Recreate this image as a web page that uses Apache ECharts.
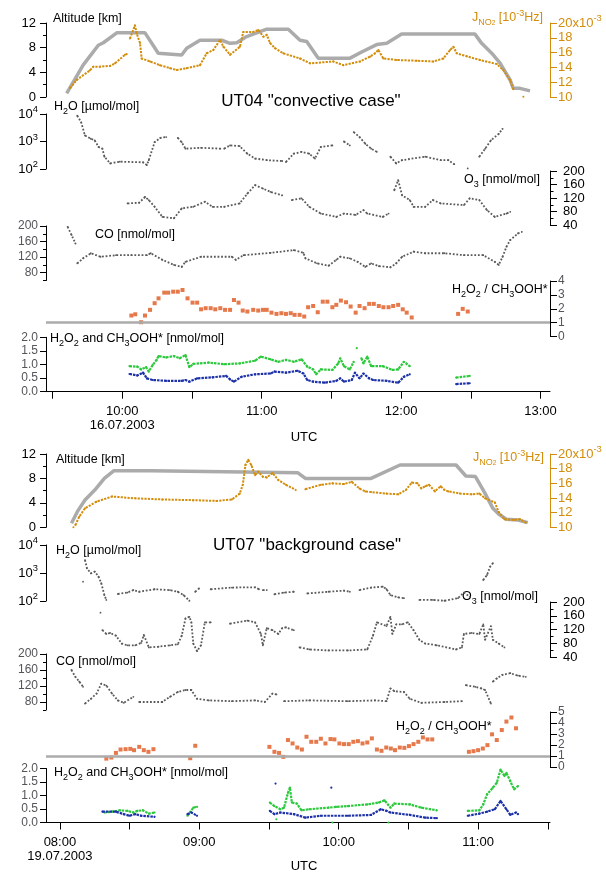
<!DOCTYPE html>
<html><head><meta charset="utf-8">
<script src="https://cdn.jsdelivr.net/npm/echarts@6/dist/echarts.min.js"></script>
<style>html,body{margin:0;padding:0;background:#fff}#c{width:606px;height:872px}</style>
</head><body><div id="c"></div>
<script>
// ===================== DATA (time in decimal hours UTC) =====================
// ---- UT04, 16.07.2003 ----
const ut04_altitude = [[9.601,0.6],[9.720,5.2],[9.828,8.4],[9.864,8.8],[9.960,10.4],[10.163,10.4],[10.258,7.1],[10.270,6.8],[10.426,6.8],[10.462,7.9],[10.557,9.2],[10.713,9.2],[10.773,8.7],[10.821,8.8],[10.892,9.8],[11.036,11.0],[11.191,11.0],[11.275,9.2],[11.323,9.0],[11.406,6.3],[11.634,6.3],[11.717,7.3],[11.825,8.5],[11.897,8.7],[12.004,10.2],[12.530,10.2],[12.578,8.7],[12.650,7.1],[12.710,5.5],[12.781,2.8],[12.805,1.4],[12.853,1.4],[12.925,1.0]];
const ut04_jno2 = [[9.625,11.2],[9.673,12.3],[9.768,13.6],[9.792,14.1],[9.840,14.1],[9.912,14.2],[9.948,14.55],[10.019,15.7],[10.032,15.8],null,[10.055,17.9],[10.091,19.7],[10.103,18.6],[10.127,17.3],[10.139,15.2],[10.199,14.8],[10.270,14.3],[10.342,13.9],[10.390,13.65],[10.462,13.9],[10.557,14.3],[10.605,15.9],[10.653,16.35],[10.701,17.7],[10.725,16.8],[10.773,15.7],[10.844,16.8],[10.868,18.8],[10.940,18.8],[10.976,19.05],[11.012,18.15],[11.036,18.4],[11.060,17.3],[11.095,16.6],[11.155,15.9],[11.275,15.2],[11.347,14.55],[11.514,14.8],[11.585,14.3],[11.705,14.8],[11.777,15.45],[11.813,15.9],[11.837,16.35],[11.872,15.2],[11.969,15.0],[12.112,14.9],[12.231,14.8],[12.303,15.2],[12.351,16.35],[12.375,16.8],[12.399,15.9],[12.471,15.5],[12.566,15.0],[12.686,14.45],[12.733,13.65],[12.781,12.3],[12.805,11.05],null,[12.877,10.05]];
const ut04_h2o = [[9.677,8700],[9.705,5000],[9.732,1660],[9.774,1260],[9.802,1100],[9.830,630],[9.857,550],[9.872,280],[9.913,160],[9.982,185],[10.149,175],[10.176,140],[10.190,210],[10.232,950],[10.273,1350],[10.315,1450],null,[10.398,1350],[10.426,950],[10.453,550],[10.565,590],[10.703,550],null,[10.731,550],[10.773,720],[10.842,680],[10.897,360],[10.953,240],[11.036,210],[11.147,195],null,[11.174,180],[11.230,360],[11.286,420],[11.341,360],[11.382,240],[11.424,630],[11.507,720],null,[11.590,1000],[11.632,720],null,[11.660,2200],[11.702,1450],[11.743,830],[11.785,550],[11.826,420],null,[11.923,280],[11.965,160],[12.007,210],[12.173,280],[12.284,210],[12.339,210],[12.381,150],null,[12.478,105],null,[12.561,280],[12.603,550],[12.644,1100],[12.700,1900],[12.728,2900]];
const ut04_o3 = [[10.038,104],[10.121,106],[10.163,123],[10.190,114],[10.232,94],[10.288,64],[10.371,60],[10.426,89],[10.509,94],[10.593,109],[10.648,94],[10.731,94],[10.842,104],[10.897,133],[10.953,158],[11.009,148],[11.064,138],[11.147,128],null,[11.216,114],[11.286,119],[11.341,94],[11.424,74],[11.535,64],[11.590,74],[11.674,70],[11.730,84],[11.757,74],[11.868,64],[11.910,74],null,[11.951,143],[11.979,173],[12.007,128],[12.062,114],[12.090,94],[12.173,94],[12.228,114],[12.284,104],[12.451,99],[12.492,119],[12.561,114],[12.616,84],[12.672,64],[12.756,74],[12.783,79]];
const ut04_co = [[9.608,198],[9.636,177],[9.664,155],null,[9.677,104],[9.719,117],[9.774,130],[9.844,121],[9.955,125],[10.065,125],[10.176,125],[10.204,130],[10.288,113],[10.371,100],[10.426,95],[10.453,108],[10.565,121],[10.786,121],[10.814,113],[10.870,125],[11.064,131],[11.230,138],[11.299,131],[11.314,117],[11.397,104],[11.480,98],[11.535,113],[11.563,121],[11.632,117],[11.688,108],[11.743,95],[11.785,104],[11.840,97],[11.923,94],[11.965,104],[12.007,121],[12.090,134],[12.173,130],[12.311,130],[12.451,125],[12.589,125],[12.672,108],[12.700,100],[12.728,121],[12.756,147],[12.783,164],[12.839,181],[12.866,185]];
const ut04_ratio = [[10.065,1.51],[10.093,1.60],[10.135,1.03],[10.163,1.51],[10.199,1.92],[10.232,2.40],[10.260,2.75],[10.301,3.16],[10.329,3.16],[10.365,3.23],[10.398,3.23],[10.432,3.35],[10.468,2.75],[10.504,2.44],[10.537,2.44],[10.565,1.96],[10.598,2.04],[10.634,2.04],[10.667,1.96],[10.703,2.04],[10.737,1.92],[10.773,1.92],[10.801,2.63],[10.834,2.44],[10.864,1.87],[10.897,1.80],[10.939,1.92],[10.975,1.87],[11.009,1.92],[11.036,1.92],[11.070,1.72],[11.106,1.63],[11.141,1.68],[11.174,1.63],[11.208,1.68],[11.236,1.56],[11.272,1.56],[11.305,1.44],[11.333,2.11],[11.369,2.20],[11.402,1.75],[11.438,2.51],[11.471,2.51],[11.507,2.11],[11.535,2.28],[11.568,2.59],[11.605,2.47],[11.638,2.16],[11.674,1.72],[11.702,2.20],[11.738,2.04],[11.771,2.35],[11.804,2.35],[11.840,2.20],[11.873,2.11],[11.910,2.11],[11.943,2.20],[11.979,2.28],[12.012,1.96],[12.040,1.72],[12.076,1.37],[12.409,1.63],[12.442,1.99],[12.478,1.80]];
const ut04_h2o2 = [[10.052,0.94],[10.107,0.92],[10.135,0.82],[10.171,0.90],[10.190,0.74],[10.218,0.98],[10.246,1.17],[10.260,1.31],[10.315,1.26],[10.370,1.31],[10.412,1.23],[10.453,1.35],[10.481,0.90],[10.509,1.02],[10.620,1.07],[10.731,1.01],[10.842,1.04],[10.953,1.14],[10.994,1.29],[11.064,1.19],[11.119,1.10],[11.174,1.17],[11.230,1.10],[11.286,1.19],[11.327,0.92],[11.369,0.82],[11.391,0.64],[11.424,0.82],[11.507,0.80],[11.549,1.04],[11.563,1.23],[11.590,0.94],[11.632,0.82],[11.660,1.10],null,[11.682,1.60],null,[11.715,1.23],[11.730,1.04],[11.757,1.29],[11.785,0.94],[11.868,0.94],[11.938,0.80],[11.979,0.82],[12.020,1.10],[12.062,0.94],null,[12.395,0.52],[12.492,0.58]];
const ut04_ch3ooh = [[10.052,0.65],[10.107,0.60],[10.149,0.70],[10.176,0.49],[10.218,0.43],[10.315,0.40],[10.426,0.40],[10.453,0.43],[10.481,0.37],[10.537,0.49],[10.648,0.53],[10.745,0.58],[10.773,0.45],[10.801,0.37],[10.856,0.55],[10.953,0.64],[11.064,0.67],[11.092,0.74],[11.174,0.70],[11.258,0.77],[11.299,0.67],[11.327,0.43],[11.369,0.37],[11.452,0.33],[11.535,0.40],[11.563,0.49],[11.590,0.37],[11.646,0.43],[11.669,0.70],[11.702,0.49],[11.730,0.67],[11.771,0.49],[11.799,0.43],[11.895,0.40],[11.979,0.33],[12.020,0.55],[12.062,0.64],null,[12.395,0.28],[12.492,0.31]];
const ut04_timeTicks = [9.5,10,10.5,11,11.5,12,12.5,13];
const ut04_timeLabels = [10,11,12,13];

// ---- UT07, 19.07.2003 ----
const ut07_altitude = [[8.083,0.65],[8.125,2.56],[8.180,4.47],[8.250,6.1],[8.319,8.0],[8.388,9.27],[8.652,9.27],[8.666,8.95],[9.705,8.95],[9.761,8.0],[10.232,8.0],[10.440,10.2],[10.842,10.2],[10.912,8.4],[10.981,8.3],[11.050,5.56],[11.106,3.1],[11.147,2.18],[11.203,1.31],[11.286,1.2],[11.356,0.76]];
const ut07_jno2 = [[8.097,10.0],null,[8.111,10.3],[8.139,11.45],[8.180,12.6],[8.263,13.5],[8.374,14.2],[8.541,13.95],[8.735,13.8],[8.957,13.7],[9.123,13.6],[9.234,13.8],[9.290,14.6],[9.312,15.8],[9.331,18.5],[9.351,19.2],[9.373,18.5],[9.400,17.1],[9.423,17.6],[9.456,16.9],[9.484,16.8],[9.525,17.4],[9.567,16.45],[9.622,15.8],[9.692,15.1],null,[9.761,15.2],[9.872,15.8],[9.955,16.0],[10.038,15.9],[10.094,16.2],[10.149,15.3],[10.191,14.9],[10.232,14.8],[10.343,14.6],[10.427,14.5],[10.482,15.1],[10.524,16.1],[10.565,16.0],[10.593,15.3],[10.621,15.6],[10.648,15.8],[10.690,14.9],[10.732,15.6],[10.759,15.1],[10.787,14.9],[10.870,14.6],[10.953,14.5],[11.009,14.6],[11.050,13.95],[11.120,13.4],[11.147,12.1],[11.189,11.1],[11.258,11.0],[11.300,11.1],[11.342,10.65]];
const ut07_h2o = [[8.166,490],null,[8.180,2900],[8.194,1470],[8.222,970],[8.250,1120],[8.277,740],[8.297,430],[8.319,163],[8.333,109],null,[8.416,178],[8.485,200],[8.527,245],[8.569,214],[8.679,263],[8.790,245],[8.846,214],[8.887,163],[8.929,102],null,[8.971,214],[8.998,282],null,[9.082,263],[9.234,302],[9.400,309],[9.428,263],null,[9.456,245],[9.484,245],null,[9.539,174],[9.608,200],[9.678,214],null,[9.775,186],[9.927,214],[10.038,234],[10.080,214],null,[10.149,245],[10.232,302],[10.316,324],[10.343,263],[10.371,163],[10.427,135],[10.468,126],null,[10.579,109],[10.676,109],[10.759,102],[10.856,126],[10.898,200],[10.940,141],null,[11.037,562],[11.064,850],[11.087,1700],[11.106,2240]];
const ut07_o3 = [[8.291,169],null,[8.305,118],[8.333,107],[8.360,110],[8.402,102],[8.444,79],[8.485,74],[8.541,74],[8.583,81],[8.602,104],[8.638,68],[8.707,70],[8.790,74],[8.846,77],[8.874,102],[8.901,152],[8.929,157],[8.943,141],[8.957,79],[8.984,57],[9.012,74],[9.040,141],[9.082,141],null,[9.220,137],[9.345,146],[9.400,141],[9.442,107],[9.456,74],[9.484,124],[9.525,118],[9.567,107],[9.595,124],[9.622,126],[9.678,118],null,[9.719,68],[9.789,62],[9.927,59],[10.066,59],[10.205,62],[10.246,102],[10.274,141],[10.343,130],[10.371,157],[10.385,107],[10.413,135],[10.454,135],[10.496,141],[10.537,118],[10.579,90],[10.621,79],[10.704,74],[10.842,62],[10.884,68],[10.898,107],[10.953,110],[11.009,107],[11.037,135],[11.050,90],[11.092,130],[11.106,90],[11.148,79],[11.189,68]];
const ut07_co = [[8.083,160],[8.111,143],[8.139,131],[8.166,118],null,[8.180,76],[8.222,88],[8.263,101],[8.297,126],[8.333,121],[8.374,101],[8.416,84],[8.458,78],[8.527,93],null,[8.569,80],[8.735,80],[8.790,93],[8.846,105],[8.901,110],[8.943,110],[8.984,88],[9.068,84],[9.234,82],[9.400,84],[9.470,80],[9.525,101],[9.553,99],null,[9.608,82],[9.789,84],[10.066,82],[10.260,84],[10.343,82],[10.371,114],[10.399,107],[10.468,105],[10.510,88],[10.593,78],[10.759,80],[10.884,82],null,[10.912,122],[10.981,118],[11.023,114],[11.050,110],[11.092,76],null,[11.106,131],[11.134,139],[11.175,148],[11.231,152],[11.286,146],[11.342,143]];
const ut07_ratio = [[8.333,0.76],[8.369,0.86],[8.402,1.28],[8.435,1.59],[8.471,1.62],[8.505,1.65],[8.532,1.53],[8.569,1.83],[8.602,1.53],[8.635,1.38],[8.671,1.62],[8.935,0.80],[8.971,1.93],[9.503,1.83],[9.539,1.38],[9.572,1.28],[9.603,0.92],[9.636,2.45],[9.669,2.14],[9.703,1.77],[9.736,1.59],[9.769,2.75],[9.803,2.29],[9.839,2.29],[9.872,2.57],[9.905,2.14],[9.941,2.54],[9.969,2.51],[10.005,2.14],[10.038,2.08],[10.072,2.08],[10.105,2.29],[10.138,2.35],[10.171,2.14],[10.205,2.23],[10.238,2.60],[10.274,1.59],[10.307,1.47],[10.341,1.77],[10.374,1.68],[10.404,1.53],[10.438,1.77],[10.471,1.74],[10.504,1.90],[10.537,2.08],[10.571,2.29],[10.604,2.69],[10.637,2.51],[10.671,2.51],[10.934,1.38],[10.967,1.44],[11.000,1.53],[11.034,1.68],[11.067,1.99],[11.100,2.97],[11.134,2.45],[11.170,3.36],[11.203,4.13],[11.239,4.50],[11.272,3.52]];
const ut07_h2o2 = [[8.319,0.37],[8.374,0.40],[8.430,0.45],[8.485,0.43],[8.527,0.37],[8.555,0.43],[8.596,0.45],[8.638,0.33],[8.679,0.37],null,[8.915,0.25],[8.957,0.55],[8.984,0.58],null,[9.506,0.74],[9.539,0.61],[9.581,0.49],[9.608,0.55],[9.636,1.10],[9.650,1.29],[9.664,0.74],[9.700,0.70],[9.733,0.45],[9.789,0.49],[9.927,0.55],[9.983,0.58],[10.066,0.61],[10.205,0.67],[10.288,0.74],[10.329,0.82],[10.371,0.55],[10.399,0.70],[10.510,0.67],[10.593,0.55],[10.704,0.45],null,[10.926,0.43],[11.009,0.45],[11.037,0.67],[11.064,1.04],[11.106,1.29],[11.134,1.47],[11.161,1.96],[11.189,1.72],[11.203,1.84],[11.231,1.53],[11.258,1.23],[11.286,1.35],null,[9.553,0.12],null,[9.955,0.0],null,[10.357,0.0]];
const ut07_ch3ooh = [[8.305,0.40],[8.402,0.40],[8.458,0.31],[8.499,0.25],[8.541,0.31],[8.583,0.25],[8.679,0.21],null,[8.915,0.31],[8.943,0.37],[8.984,0.25],null,[9.506,0.43],[9.539,0.31],[9.581,0.37],[9.678,0.31],[9.761,0.18],[9.872,0.25],[10.066,0.25],[10.232,0.28],[10.302,0.49],[10.343,0.43],[10.371,0.37],[10.510,0.28],[10.621,0.18],[10.704,0.16],null,[10.926,0.25],[11.009,0.33],[11.064,0.40],[11.120,0.49],[11.161,0.80],[11.203,0.49],[11.231,0.28],[11.272,0.37],[11.286,0.31],null,[9.547,1.44],null,[9.947,1.29]];
const ut07_timeTicks = [8,8.5,9,9.5,10,10.5,11,11.5];
const ut07_timeLabels = [8,9,10,11];

// ===================== LAYOUT / STYLE =====================
const FONT = "'Liberation Sans', Arial, Helvetica, sans-serif";
const ORANGE = '#d38d0b', ALTGRAY = '#ababab', DOT = '#5a5a5a', RED = '#e0571e',
      GREEN = '#2bc93c', BLUE = '#1c30a8', GREEN_T = '#25b04a', BLUE_T = '#2a44b8';
const XL = 46, XR = 550;

const panels = [
  { tmin: 9.4527, tmax: 13.0681, alt:[23,97], h2o:[114,169], o3:[171,225], co:[226,280.5], ratio:[281,336.5], ratioMax:4, hp:[337.3,391.7],
    ticks: ut04_timeTicks, labels: ut04_timeLabels, date:'16.07.2003',
    d: { alt: ut04_altitude, j: ut04_jno2, h2o: ut04_h2o, o3: ut04_o3, co: ut04_co, ratio: ut04_ratio, h2o2: ut04_h2o2, mhp: ut04_ch3ooh },
    txt: { altLab:[53,19], jLab:[472,18], title:[311,101,'UT04 "convective case"'], h2oLab:[54,107], o3Lab:[464,180], coLab:[95,235], ratioLab:[452,290], hpLab:[50,339], utc:[304,437] } },
  { tmin: 7.9003, tmax: 11.5158, alt:[454,527.3], h2o:[545,601], o3:[602,657], co:[654,710], ratio:[712,767], ratioMax:5, hp:[768.5,822.5],
    ticks: ut07_timeTicks, labels: ut07_timeLabels, date:'19.07.2003',
    d: { alt: ut07_altitude, j: ut07_jno2, h2o: ut07_h2o, o3: ut07_o3, co: ut07_co, ratio: ut07_ratio, h2o2: ut07_h2o2, mhp: ut07_ch3ooh },
    txt: { altLab:[56,460], jLab:[473,458], title:[307,545,'UT07 "background case"'], h2oLab:[56,551], o3Lab:[462,597], coLab:[56,662], ratioLab:[396,727], hpLab:[54,773], utc:[304,866] } }
];

const grids = [], xAxes = [], yAxes = [], series = [], graphics = [];

function pairs(a) { return a.map(p => p === null ? ['-', '-'] : p); }
function addGrid(top, bottom, tmin, tmax) {
  grids.push({ left: XL, width: XR - XL, top: top, height: bottom - top });
  xAxes.push({ type: 'value', gridIndex: grids.length - 1, min: tmin, max: tmax, show: false });
  return grids.length - 1;
}
function richSet(color, size) {
  return {
    n: { fontSize: size, fontFamily: FONT, color: color, lineHeight: 18, verticalAlign: 'middle' },
    s: { fontSize: size * 0.72, fontFamily: FONT, color: color, lineHeight: 9, verticalAlign: 'bottom' },
    p: { fontSize: size * 0.72, fontFamily: FONT, color: color, lineHeight: 9, verticalAlign: 'top' }
  };
}
function yAx(grid, pos, color, extra) {
  const left = pos === 'left';
  const base = {
    gridIndex: grid, type: 'value', position: pos,
    axisLine: { show: true, onZero: false, lineStyle: { color: color, width: 1 } },
    axisTick: { show: true, length: left ? 6 : 7, lineStyle: { color: color, width: 1 } },
    axisLabel: { color: color, fontSize: 13, fontFamily: FONT, margin: left ? 10 : 13,
      showMinLabel: true, showMaxLabel: true, hideOverlap: false, interval: 0 },
    splitLine: { show: false }
  };
  const cfg = Object.assign(base, extra || {});
  if (extra && extra.axisLabel) cfg.axisLabel = Object.assign(base.axisLabel, extra.axisLabel);
  if (extra && extra.axisTick) cfg.axisTick = Object.assign({ show: true, length: left ? 6 : 7, lineStyle: { color: color, width: 1 } }, extra.axisTick);
  yAxes.push(cfg);
  return yAxes.length - 1;
}
function dotLine(g, y, data, color, width, dash, sym, z) {
  return { type: 'line', xAxisIndex: g, yAxisIndex: y, data: pairs(data), showSymbol: true, symbol: 'circle',
    symbolSize: sym, itemStyle: { color: color }, lineStyle: { color: color, width: width, type: dash },
    connectNulls: false, silent: true, animation: false, z: z };
}
function text(x, y, str, color, size, align, richExtra) {
  const r = richSet(color, size);
  if (richExtra) Object.assign(r, richExtra);
  graphics.push({ type: 'text', x: x, y: y, silent: true,
    style: { text: str, rich: r, fill: color, fontSize: size, fontFamily: FONT, align: align || 'left', verticalAlign: 'middle' } });
}
function fmtTime(v) {
  const h = Math.floor(v + 1e-6), m = Math.round((v - h) * 60);
  return (h < 10 ? '0' : '') + h + ':' + (m < 10 ? '0' : '') + m;
}

panels.forEach(P => {
  // Altitude + J(NO2)
  const gA = addGrid(P.alt[0], P.alt[1], P.tmin, P.tmax);
  const yAlt = yAx(gA, 'left', '#000', { min: 0, max: 12, interval: 4,
    minorTick: { show: true, splitNumber: 2, length: 3, lineStyle: { color: '#000' } } });
  const yJ = yAx(gA, 'right', ORANGE, { min: 10, max: 20, interval: 2,
    axisLabel: { formatter: v => v === 20 ? '{n|20x10}{p|-3}' : '{n|' + v + '}', rich: richSet(ORANGE, 13) } });
  series.push({ type: 'line', xAxisIndex: gA, yAxisIndex: yAlt, data: pairs(P.d.alt), showSymbol: false,
    lineStyle: { color: ALTGRAY, width: 3.5 }, silent: true, animation: false, z: 1 });
  series.push(dotLine(gA, yJ, P.d.j, ORANGE, 2, [2.2, 1.2], 2, 2));

  // H2O (log)
  const gW = addGrid(P.h2o[0], P.h2o[1], P.tmin, P.tmax);
  const yW = yAx(gW, 'left', '#000', { type: 'log', logBase: 10, min: 100, max: 10000,
    axisLabel: { formatter: v => '{n|10}{p|' + Math.round(Math.log10(v)) + '}', rich: richSet('#000', 13) } });
  series.push(dotLine(gW, yW, P.d.h2o, DOT, 1.8, [1.8, 1.8], 1.8, 2));

  // O3 (right)
  const gO = addGrid(P.o3[0], P.o3[1], P.tmin, P.tmax);
  const yO = yAx(gO, 'right', '#000', { min: 40, max: 200, interval: 40,
    minorTick: { show: true, splitNumber: 2, length: 3.5, lineStyle: { color: '#000' } } });
  series.push(dotLine(gO, yO, P.d.o3, DOT, 1.8, [1.8, 1.8], 1.8, 2));

  // CO (left)
  const gC = addGrid(P.co[0], P.co[1], P.tmin, P.tmax);
  const yC = yAx(gC, 'left', '#000', { min: 60, max: 200,
    axisTick: { customValues: [80, 120, 160, 200] },
    axisLabel: { customValues: [80, 120, 160, 200] } });
  yAx(gC, 'left', '#000', { min: 60, max: 200,
    axisLine: { show: false }, axisLabel: { show: false },
    axisTick: { customValues: [60, 100, 140, 180], length: 3 } });
  series.push(dotLine(gC, yC, P.d.co, DOT, 1.8, [1.8, 1.8], 1.8, 2));

  // Ratio (right): labels split over two overlaid axes so none is dropped for crowding
  const gR = addGrid(P.ratio[0], P.ratio[1], P.tmin, P.tmax);
  const evens = [], odds = [];
  for (let k = 0; k <= P.ratioMax; k++) (k % 2 ? odds : evens).push(k);
  const yR = yAx(gR, 'right', '#000', { min: 0, max: P.ratioMax,
    axisTick: { customValues: evens.concat(odds) },
    axisLabel: { customValues: evens } });
  yAx(gR, 'right', '#000', { min: 0, max: P.ratioMax,
    axisLine: { show: false }, axisTick: { show: false },
    axisLabel: { customValues: odds } });
  series.push({ type: 'line', xAxisIndex: gR, yAxisIndex: yR, data: [], silent: true, animation: false, z: 1,
    markLine: { silent: true, symbol: 'none', label: { show: false }, animation: false,
      lineStyle: { color: ALTGRAY, width: 2.5, type: 'solid' }, data: [{ yAxis: 1 }] } });
  series.push({ type: 'scatter', xAxisIndex: gR, yAxisIndex: yR, data: P.d.ratio, symbol: 'rect', symbolSize: 4,
    itemStyle: { color: RED }, silent: true, animation: false, z: 3 });

  // H2O2 and CH3OOH (left) + time axis
  const gH = addGrid(P.hp[0], P.hp[1], P.tmin, P.tmax);
  xAxes[gH] = { type: 'value', gridIndex: gH, min: P.tmin, max: P.tmax, position: 'bottom',
    axisLine: { show: true, onZero: false, lineStyle: { color: '#000', width: 1 } },
    axisTick: { show: true, customValues: P.ticks, length: 7, lineStyle: { color: '#000' } },
    axisLabel: { customValues: P.labels, fontSize: 13, fontFamily: FONT, color: '#000', margin: 13, lineHeight: 14,
      formatter: v => fmtTime(v) + (v === P.labels[0] ? '\n' + P.date : '') },
    splitLine: { show: false } };
  const yH = yAx(gH, 'left', '#000', { min: 0, max: 2, interval: 0.5,
    axisLabel: { formatter: v => v.toFixed(1) } });
  series.push(dotLine(gH, yH, P.d.h2o2, GREEN, 2.2, [2.5, 1], 2.2, 2));
  series.push(dotLine(gH, yH, P.d.mhp, BLUE, 2.2, [2.5, 1], 2.2, 3));

  // Texts
  const T = P.txt;
  text(T.altLab[0], T.altLab[1], '{n|Altitude [km]}', '#000', 12.5);
  text(T.jLab[0], T.jLab[1], '{n|J}{s|NO}{s2|2}{n| [10}{p|-3}{n|Hz]}', ORANGE, 12.5,
    'left', { s2: { fontSize: 6.5, fontFamily: FONT, color: ORANGE, lineHeight: 6, verticalAlign: 'bottom' } });
  text(T.title[0], T.title[1], '{t|' + T.title[2] + '}', '#000', 17, 'center',
    { t: { fontSize: 17, fontFamily: FONT, color: '#000', lineHeight: 20 } });
  text(T.h2oLab[0], T.h2oLab[1], '{n|H}{s|2}{n|O [µmol/mol]}', '#000', 12.5);
  text(T.o3Lab[0], T.o3Lab[1], '{n|O}{s|3}{n| [nmol/mol]}', '#000', 12.5);
  text(T.coLab[0], T.coLab[1], '{n|CO [nmol/mol]}', '#000', 12.5);
  text(T.ratioLab[0], T.ratioLab[1], '{n|H}{s|2}{n|O}{s|2}{n| / CH}{s|3}{n|OOH*}', '#000', 12.5);
  text(T.hpLab[0], T.hpLab[1], '{g|H}{gs|2}{g|O}{gs|2}{n| and }{b|CH}{bs|3}{b|OOH*}{n| [nmol/mol]}', '#000', 12.5, 'left', {
    g: { fontSize: 12.5, fontFamily: FONT, color: GREEN_T, lineHeight: 18, verticalAlign: 'middle' },
    gs: { fontSize: 9, fontFamily: FONT, color: GREEN_T, lineHeight: 9, verticalAlign: 'bottom' },
    b: { fontSize: 12.5, fontFamily: FONT, color: BLUE_T, lineHeight: 18, verticalAlign: 'middle' },
    bs: { fontSize: 9, fontFamily: FONT, color: BLUE_T, lineHeight: 9, verticalAlign: 'bottom' } });
  text(T.utc[0], T.utc[1], '{n|UTC}', '#000', 13, 'center');
});

const chart = echarts.init(document.getElementById('c'), null, { renderer: 'canvas' });
chart.setOption({
  animation: false, backgroundColor: '#fff',
  grid: grids, xAxis: xAxes, yAxis: yAxes, series: series, graphic: graphics
});
</script></body></html>
